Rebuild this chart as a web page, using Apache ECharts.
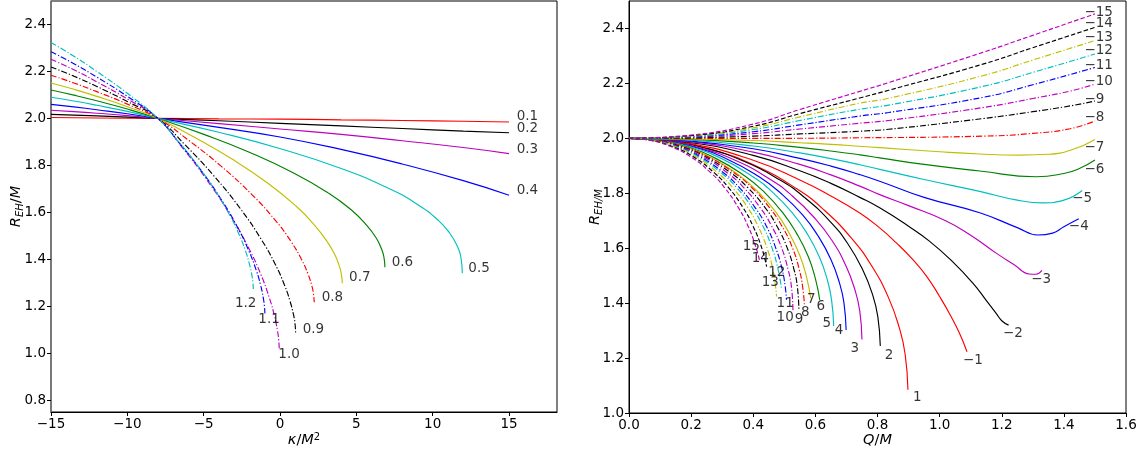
<!DOCTYPE html>
<html>
<head>
<meta charset="utf-8">
<script src="https://cdn.jsdelivr.net/npm/echarts@6/dist/echarts.min.js"></script>
<style>
  html, body { margin: 0; padding: 0; background: #ffffff; }
  #chart { width: 1141px; height: 450px; }
</style>
</head>
<body>
<div id="chart"></div>
<script>
// ---------- Left panel: R_EH/M versus kappa/M^2, one curve per Q/M ----------
const kap_q01 = [[-15,2.004],[-12,2.002],[-8,2.0],[-4,1.998],[0,1.997],[4,1.994],[8,1.991],[12,1.988],[15,1.985]];
const kap_q02 = [[-15,2.017],[-12,2.011],[-8,2.0],[-4,1.990],[0,1.979],[4,1.968],[8,1.957],[12,1.946],[15,1.939]];
const kap_q03 = [[-15,2.035],[-13.5,2.029],[-12,2.022],[-10,2.012],[-8,2.0],[-4,1.978],[0,1.955],[4,1.932],[8,1.905],[12,1.876],[15,1.850]];
const kap_q04 = [[-15,2.060],[-13.5,2.049],[-12,2.037],[-10,2.020],[-8,2.0],[-4,1.962],[0,1.921],[4,1.868],[8,1.806],[12,1.735],[15,1.673]];
const kap_q05 = [[-15,2.090],[-13.5,2.074],[-12,2.056],[-10,2.030],[-8,2.0],[-4.01,1.941],[-0.02,1.872],[3.96,1.788],[6.96,1.707],[8.95,1.636],[10.35,1.567],[11.14,1.509],[11.64,1.452],[11.84,1.411],[11.94,1.341]];
const kap_q06 = [[-15,2.121],[-13.5,2.099],[-12,2.075],[-10,2.040],[-8,2.0],[-5.03,1.933],[-2.05,1.857],[0.92,1.767],[3.15,1.683],[4.64,1.612],[5.68,1.545],[6.28,1.493],[6.65,1.444],[6.80,1.411],[6.87,1.366]];
const kap_q07 = [[-15,2.151],[-13.5,2.124],[-12,2.094],[-10,2.050],[-8,2.0],[-5.58,1.919],[-3.17,1.828],[-0.75,1.722],[1.06,1.626],[2.27,1.545],[3.11,1.473],[3.60,1.418],[3.90,1.368],[4.02,1.336],[4.08,1.298]];
const kap_q08 = [[-15,2.184],[-13.5,2.151],[-12,2.114],[-10,2.061],[-8,2.0],[-5.95,1.905],[-3.90,1.799],[-1.86,1.677],[-0.32,1.567],[0.70,1.478],[1.42,1.398],[1.83,1.338],[2.09,1.286],[2.19,1.253],[2.24,1.217]];
const kap_q09 = [[-15,2.219],[-13.5,2.180],[-12,2.136],[-10,2.072],[-8,2.0],[-6.20,1.886],[-4.39,1.760],[-2.59,1.615],[-1.24,1.486],[-0.33,1.381],[0.30,1.289],[0.66,1.221],[0.89,1.162],[0.98,1.127],[1.02,1.089]];
const kap_q10 = [[-15,2.252],[-13.5,2.207],[-12,2.156],[-10,2.083],[-8,2.0],[-6.41,1.877],[-4.82,1.741],[-3.23,1.585],[-2.04,1.446],[-1.24,1.333],[-0.69,1.234],[-0.37,1.160],[-0.17,1.097],[-0.09,1.059],[-0.05,1.018]];
const kap_q11 = [[-15,2.284],[-13.5,2.233],[-12,2.176],[-10,2.094],[-8,2.0],[-6.60,1.896],[-5.20,1.781],[-3.79,1.649],[-2.74,1.531],[-2.04,1.436],[-1.55,1.352],[-1.27,1.290],[-1.10,1.237],[-1.03,1.205],[-0.99,1.170]];
const kap_q12 = [[-15,2.323],[-13.5,2.265],[-12,2.200],[-10,2.107],[-8,2.0],[-6.75,1.909],[-5.50,1.808],[-4.25,1.693],[-3.31,1.590],[-2.69,1.507],[-2.25,1.434],[-2.00,1.379],[-1.84,1.332],[-1.78,1.304],[-1.75,1.274]];

const kapNames = ['0.1','0.2','0.3','0.4','0.5','0.6','0.7','0.8','0.9','1.0','1.1','1.2'];
const kapLabelAt = [[15.5,2.010],[15.5,1.957],[15.5,1.869],[15.5,1.694],[12.33,1.362],[7.31,1.388],[4.52,1.321],[2.73,1.238],[1.48,1.103],[-0.11,0.994],[-1.42,1.142],[-2.95,1.214]];

// ---------- Right panel: R_EH/M versus Q/M, one curve per integer parameter ----------
const q_p01 = [[0,2],[0.135,1.990],[0.269,1.958],[0.404,1.902],[0.539,1.817],[0.629,1.738],[0.718,1.634],[0.781,1.536],[0.835,1.421],[0.871,1.307],[0.889,1.214],[0.898,1.085]];
const q_p02 = [[0,2],[0.121,1.991],[0.243,1.965],[0.364,1.919],[0.485,1.849],[0.566,1.784],[0.647,1.698],[0.704,1.617],[0.752,1.522],[0.785,1.428],[0.801,1.351],[0.809,1.244]];
const q_p03 = [[0,2],[0.113,1.992],[0.225,1.966],[0.338,1.922],[0.450,1.854],[0.525,1.791],[0.600,1.707],[0.653,1.629],[0.698,1.537],[0.728,1.446],[0.743,1.371],[0.750,1.268]];
const q_p04 = [[0,2],[0.105,1.992],[0.210,1.968],[0.315,1.925],[0.419,1.860],[0.489,1.800],[0.559,1.721],[0.608,1.646],[0.650,1.559],[0.678,1.472],[0.692,1.401],[0.699,1.302]];
const q_p05 = [[0,2],[0.099,1.992],[0.198,1.969],[0.297,1.927],[0.395,1.863],[0.461,1.805],[0.527,1.727],[0.573,1.654],[0.613,1.568],[0.639,1.483],[0.652,1.413],[0.659,1.317]];
const q_p06 = [[0,2],[0.093,1.992],[0.186,1.969],[0.279,1.927],[0.372,1.864],[0.434,1.806],[0.496,1.728],[0.539,1.655],[0.577,1.570],[0.601,1.485],[0.614,1.412]];
const q_p07 = [[0,2],[0.089,1.992],[0.177,1.969],[0.266,1.928],[0.354,1.866],[0.413,1.808],[0.472,1.732],[0.513,1.660],[0.549,1.576],[0.572,1.493],[0.585,1.418]];
const q_p08 = [[0,2],[0.085,1.993],[0.170,1.971],[0.254,1.933],[0.339,1.874],[0.396,1.820],[0.452,1.748],[0.492,1.681],[0.526,1.602],[0.548,1.523],[0.559,1.459],[0.565,1.390]];
const q_p09 = [[0,2],[0.082,1.993],[0.164,1.971],[0.246,1.933],[0.328,1.874],[0.383,1.820],[0.438,1.748],[0.476,1.681],[0.509,1.602],[0.531,1.523],[0.542,1.459],[0.547,1.375]];
const q_p10 = [[0,2],[0.079,1.993],[0.158,1.971],[0.238,1.933],[0.317,1.874],[0.370,1.820],[0.422,1.748],[0.459,1.681],[0.491,1.602],[0.512,1.523],[0.523,1.459],[0.528,1.369]];
const q_p11 = [[0,2],[0.076,1.993],[0.152,1.971],[0.229,1.933],[0.305,1.874],[0.356,1.820],[0.406,1.748],[0.442,1.681],[0.472,1.602],[0.493,1.523],[0.503,1.459],[0.507,1.412]];
const q_p12 = [[0,2],[0.074,1.993],[0.149,1.971],[0.223,1.933],[0.297,1.874],[0.347,1.820],[0.396,1.748],[0.431,1.681],[0.460,1.602],[0.480,1.523],[0.491,1.451]];
const q_p13 = [[0,2],[0.072,1.993],[0.143,1.971],[0.215,1.933],[0.286,1.874],[0.334,1.820],[0.382,1.748],[0.415,1.681],[0.444,1.602],[0.463,1.523],[0.472,1.459],[0.475,1.424]];
const q_p14 = [[0,2],[0.069,1.993],[0.138,1.971],[0.207,1.933],[0.275,1.874],[0.321,1.820],[0.367,1.748],[0.399,1.681],[0.427,1.602],[0.443,1.533]];
const q_p15 = [[0,2],[0.066,1.993],[0.132,1.971],[0.198,1.933],[0.264,1.874],[0.308,1.820],[0.352,1.748],[0.383,1.681],[0.409,1.602],[0.421,1.552]];

const q_m01 = [[0,2],[0.2,1.980],[0.4,1.920],[0.55,1.848],[0.65,1.790],[0.743,1.728],[0.807,1.674],[0.86,1.620],[0.914,1.558],[0.96,1.495],[1.0,1.424],[1.035,1.355],[1.064,1.290],[1.088,1.223]];
const q_m02 = [[0,2],[0.2,1.984],[0.4,1.938],[0.55,1.882],[0.65,1.836],[0.743,1.785],[0.807,1.747],[0.9,1.680],[0.968,1.625],[1.04,1.553],[1.107,1.473],[1.15,1.410],[1.182,1.363],[1.20,1.336],[1.222,1.320]];
const q_m03 = [[0,2],[0.2,1.987],[0.4,1.950],[0.55,1.905],[0.65,1.867],[0.743,1.826],[0.807,1.795],[0.9,1.755],[1.021,1.699],[1.10,1.647],[1.182,1.582],[1.24,1.540],[1.289,1.506],[1.31,1.505],[1.329,1.519]];
const q_m04 = [[0,2],[0.2,1.990],[0.4,1.962],[0.55,1.927],[0.65,1.899],[0.743,1.868],[0.807,1.844],[0.95,1.785],[1.129,1.729],[1.25,1.675],[1.316,1.648],[1.364,1.655],[1.40,1.678],[1.448,1.707]];
const q_m05 = [[0,2],[0.2,1.993],[0.4,1.972],[0.55,1.947],[0.65,1.926],[0.743,1.904],[0.807,1.887],[0.95,1.850],[1.129,1.807],[1.25,1.775],[1.332,1.765],[1.40,1.775],[1.459,1.810]];
const q_m06 = [[0,2],[0.2,1.996],[0.4,1.983],[0.55,1.967],[0.65,1.954],[0.743,1.940],[0.807,1.929],[0.95,1.905],[1.129,1.881],[1.311,1.860],[1.40,1.872],[1.45,1.890],[1.50,1.921]];
const q_m07 = [[0,2],[0.2,1.998],[0.4,1.992],[0.55,1.984],[0.65,1.978],[0.743,1.971],[0.807,1.966],[1.0,1.951],[1.129,1.943],[1.257,1.939],[1.35,1.942],[1.43,1.960],[1.50,1.996]];
const q_m08 = [[0,2],[0.4,2.000],[0.743,2.002],[1.14,2.008],[1.30,2.018],[1.42,2.035],[1.50,2.063]];
const q_m09 = [[0,2],[0.2,2.002],[0.4,2.008],[0.55,2.016],[0.743,2.026],[0.836,2.033],[1.139,2.072],[1.30,2.097],[1.42,2.118],[1.50,2.136]];
const q_m10 = [[0,2],[0.2,2.004],[0.4,2.017],[0.55,2.034],[0.743,2.055],[0.836,2.065],[1.139,2.112],[1.30,2.145],[1.42,2.172],[1.50,2.197]];
const q_m11 = [[0,2],[0.2,2.006],[0.4,2.024],[0.55,2.049],[0.743,2.081],[0.836,2.094],[1.139,2.149],[1.30,2.195],[1.50,2.258]];
const q_m12 = [[0,2],[0.2,2.007],[0.4,2.032],[0.55,2.065],[0.743,2.106],[0.836,2.121],[1.139,2.189],[1.30,2.240],[1.50,2.307]];
const q_m13 = [[0,2],[0.2,2.009],[0.4,2.038],[0.55,2.078],[0.743,2.128],[0.836,2.146],[1.139,2.228],[1.30,2.285],[1.50,2.356]];
const q_m14 = [[0,2],[0.2,2.010],[0.4,2.044],[0.55,2.090],[0.743,2.147],[0.836,2.175],[1.139,2.270],[1.30,2.330],[1.50,2.404]];
const q_m15 = [[0,2],[0.2,2.012],[0.4,2.052],[0.55,2.105],[0.743,2.171],[0.836,2.203],[1.139,2.313],[1.30,2.375],[1.50,2.453]];

const qPosNames = ['1','2','3','4','5','6','7','8','9','10','11','12','13','14','15'];
const qNegNames = ['\u22121','\u22122','\u22123','\u22124','\u22125','\u22126','\u22127','\u22128','\u22129','\u221210','\u221211','\u221212','\u221213','\u221214','\u221215'];
const qPosLabelAt = [[0.914,1.056],[0.823,1.211],[0.713,1.235],[0.662,1.302],[0.623,1.327],[0.604,1.387],[0.573,1.412],[0.554,1.365],[0.534,1.339],[0.475,1.347],[0.475,1.397],[0.448,1.512],[0.427,1.475],[0.395,1.564],[0.366,1.607]];
const qNegLabelAt = [[1.075,1.190],[1.204,1.290],[1.295,1.485],[1.416,1.680],[1.427,1.780],[1.466,1.887],[1.466,1.966],[1.466,2.076],[1.466,2.142],[1.466,2.206],[1.466,2.264],[1.466,2.319],[1.466,2.368],[1.466,2.417],[1.466,2.459]];

// Tick values
const kapTicks = [-15, -10, -5, 0, 5, 10, 15];
const leftYTicks = [0.8, 1.0, 1.2, 1.4, 1.6, 1.8, 2.0, 2.2, 2.4];
const qTicks = [0.0, 0.2, 0.4, 0.6, 0.8, 1.0, 1.2, 1.4, 1.6];
const rightYTicks = [1.0, 1.2, 1.4, 1.6, 1.8, 2.0, 2.2, 2.4];

// ---------- Styling ----------
const COLOR = { r: '#ff0000', k: '#000000', m: '#bf00bf', b: '#0000ff', c: '#00bfbf', g: '#008000', y: '#bfbf00' };
const DASH = { solid: 'solid', dashdot: [6, 2, 1.2, 2], dashed: [4.5, 2.2] };
const FONT = 'DejaVu Sans';

const kapCurves = [kap_q01, kap_q02, kap_q03, kap_q04, kap_q05, kap_q06, kap_q07, kap_q08, kap_q09, kap_q10, kap_q11, kap_q12];
const kapStyle = [['r','solid'],['k','solid'],['m','solid'],['b','solid'],['c','solid'],['g','solid'],['y','solid'],
                  ['r','dashdot'],['k','dashdot'],['m','dashdot'],['b','dashdot'],['c','dashdot']];
const qPosCurves = [q_p01,q_p02,q_p03,q_p04,q_p05,q_p06,q_p07,q_p08,q_p09,q_p10,q_p11,q_p12,q_p13,q_p14,q_p15];
const qNegCurves = [q_m01,q_m02,q_m03,q_m04,q_m05,q_m06,q_m07,q_m08,q_m09,q_m10,q_m11,q_m12,q_m13,q_m14,q_m15];
const qStyle = [['r','solid'],['k','solid'],['m','solid'],['b','solid'],['c','solid'],['g','solid'],['y','solid'],
                ['r','dashdot'],['k','dashdot'],['m','dashdot'],['b','dashdot'],['c','dashdot'],['y','dashdot'],
                ['k','dashed'],['m','dashed']];

function curveSeries(data, style, axisIdx) {
  return {
    type: 'line', xAxisIndex: axisIdx, yAxisIndex: axisIdx, data: data,
    showSymbol: false, symbol: 'none', smooth: 0.5,
    lineStyle: { color: COLOR[style[0]], width: 1.15, type: DASH[style[1]] },
    silent: true, animation: false, z: 2
  };
}
function labelSeries(names, positions, axisIdx) {
  return {
    type: 'scatter', xAxisIndex: axisIdx, yAxisIndex: axisIdx, symbolSize: 0, silent: true, animation: false, z: 5,
    data: names.map((n, i) => ({ name: n, value: positions[i] })),
    label: { show: true, position: 'right', distance: 0, formatter: p => p.name,
             color: '#000', fontSize: 13.5, fontFamily: FONT }
  };
}
const fmtSigned = v => (v < 0 ? '\u2212' + Math.abs(v) : String(v));

const tickLabel = { color: '#000', fontSize: 13.5, fontFamily: FONT, margin: 5 };
const nameRich = {
  i: { fontStyle: 'italic', fontSize: 14.5, fontFamily: FONT, color: '#000' },
  n: { fontSize: 14.5, fontFamily: FONT, color: '#000' },
  s: { fontStyle: 'italic', fontSize: 10, fontFamily: FONT, color: '#000', padding: [7, 0, 0, 0] },
  p: { fontSize: 10, fontFamily: FONT, color: '#000', padding: [0, 0, 7, 0] }
};

const series = [];
kapCurves.forEach((d, i) => series.push(curveSeries(d, kapStyle[i], 0)));
qPosCurves.forEach((d, i) => series.push(curveSeries(d, qStyle[i], 1)));
qNegCurves.forEach((d, i) => series.push(curveSeries(d, qStyle[i], 1)));
series.push(labelSeries(kapNames, kapLabelAt, 0));
series.push(labelSeries(qPosNames, qPosLabelAt, 1));
series.push(labelSeries(qNegNames, qNegLabelAt, 1));

function axisCommon(extra) {
  return Object.assign({
    type: 'value', splitLine: { show: false }, nameMoveOverlap: false,
    axisLine: { show: true, onZero: false, lineStyle: { color: '#000', width: 1 } },
    axisTick: { show: true, inside: false, length: 4, lineStyle: { color: '#000', width: 1 } }
  }, extra);
}

const option = {
  backgroundColor: '#ffffff',
  animation: false,
  grid: [
    { left: 51, top: 1, width: 506, height: 411, outerBoundsMode: 'none', containLabel: false,
      show: true, borderColor: '#000', borderWidth: 1, backgroundColor: 'transparent' },
    { left: 629, top: 1, width: 497, height: 412, outerBoundsMode: 'none', containLabel: false,
      show: true, borderColor: '#000', borderWidth: 1, backgroundColor: 'transparent' }
  ],
  xAxis: [
    axisCommon({ gridIndex: 0, min: -15, max: 18.14,
      axisTick: { show: true, inside: false, length: 4, customValues: kapTicks, lineStyle: { color: '#000' } },
      axisLabel: Object.assign({ customValues: kapTicks, formatter: fmtSigned }, tickLabel),
      name: '{i|\u03ba}{n|/}{i|M}{p|2}', nameLocation: 'middle', nameGap: 20,
      nameTextStyle: { rich: nameRich } }),
    axisCommon({ gridIndex: 1, min: 0, max: 1.6,
      axisTick: { show: true, inside: false, length: 4, customValues: qTicks, lineStyle: { color: '#000' } },
      axisLabel: Object.assign({ customValues: qTicks, formatter: v => v.toFixed(1) }, tickLabel),
      name: '{i|Q}{n|/}{i|M}', nameLocation: 'middle', nameGap: 20,
      nameTextStyle: { rich: nameRich } })
  ],
  yAxis: [
    axisCommon({ gridIndex: 0, min: 0.75, max: 2.5,
      axisLine: { show: true, onZero: false, lineStyle: { color: '#777', width: 1.6 } },
      axisTick: { show: true, inside: false, length: 4, customValues: leftYTicks, lineStyle: { color: '#000' } },
      axisLabel: Object.assign({ customValues: leftYTicks, formatter: v => v.toFixed(1) }, tickLabel),
      name: '{i|R}{s|EH}{n|/}{i|M}', nameLocation: 'middle', nameGap: 26,
      nameTextStyle: { rich: nameRich } }),
    axisCommon({ gridIndex: 1, min: 1.0, max: 2.5,
      axisTick: { show: true, inside: false, length: 4, customValues: rightYTicks, lineStyle: { color: '#000' } },
      axisLabel: Object.assign({ customValues: rightYTicks, formatter: v => v.toFixed(1) }, tickLabel),
      name: '{i|R}{s|EH/M}', nameLocation: 'middle', nameGap: 25,
      nameTextStyle: { rich: nameRich } })
  ],
  series: series
};

const chart = echarts.init(document.getElementById('chart'), null, { renderer: 'canvas' });
chart.setOption(option);
</script>
</body>
</html>
